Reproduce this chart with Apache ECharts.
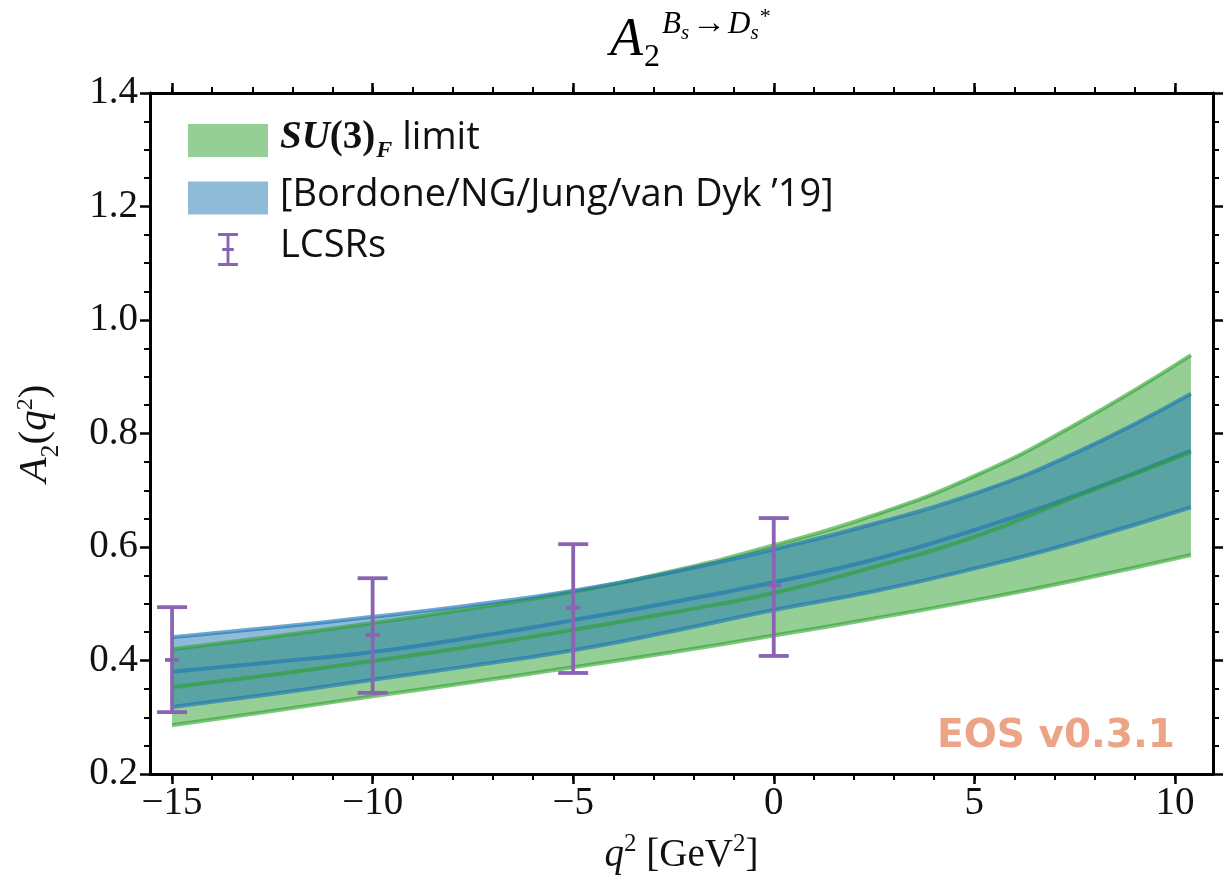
<!DOCTYPE html>
<html>
<head>
<meta charset="utf-8">
<script src="https://cdn.jsdelivr.net/npm/echarts@6/dist/echarts.min.js"></script>
<style>
html,body{margin:0;padding:0;background:#fff;}
#chart{width:1230px;height:891px;}
</style>
</head>
<body>
<div id="chart"></div>
<script>
// ---- data ----
const q2Grid = [-15, -12.5, -10, -7.5, -5, -2.5, 0, 2.5, 5, 7.5, 10.4];
const su3Upper   = [0.420, 0.442, 0.466, 0.492, 0.521, 0.558, 0.603, 0.656, 0.725, 0.815, 0.938];
const su3Central = [0.353, 0.375, 0.399, 0.425, 0.454, 0.485, 0.519, 0.565, 0.618, 0.688, 0.767];
const su3Lower   = [0.286, 0.311, 0.337, 0.362, 0.388, 0.415, 0.444, 0.474, 0.506, 0.541, 0.586];
const bgjvdUpper   = [0.441, 0.458, 0.477, 0.498, 0.523, 0.556, 0.596, 0.641, 0.694, 0.765, 0.870];
const bgjvdCentral = [0.380, 0.397, 0.415, 0.441, 0.471, 0.503, 0.538, 0.578, 0.630, 0.690, 0.770];
const bgjvdLower   = [0.318, 0.341, 0.366, 0.391, 0.418, 0.452, 0.489, 0.522, 0.562, 0.608, 0.670];
const lcsrQ2      = [-15, -10, -5, 0];
const lcsrCentral = [0.401, 0.445, 0.493, 0.533];
const lcsrLower   = [0.309, 0.343, 0.378, 0.408];
const lcsrUpper   = [0.494, 0.545, 0.605, 0.651];
const xMajorTicks = [-15, -10, -5, 0, 5, 10];
const xMinorTicks = [-15,-14,-13,-12,-11,-10,-9,-8,-7,-6,-5,-4,-3,-2,-1,0,1,2,3,4,5,6,7,8,9,10];
const yMin = 0.2, yMax = 1.4, yStep = 0.2;
const xMin = -15.55, xMax = 10.95;

// ---- styling ----
const GREEN_FILL = 'rgba(44,160,44,0.5)';
const BLUE_FILL = 'rgba(31,119,180,0.5)';
const GREEN_LINE = 'rgba(44,160,44,0.6)';
const BLUE_LINE = 'rgba(31,119,180,0.65)';
const PURPLE = '#8a64b2';
const SERIF = '"Liberation Serif", "DejaVu Serif", serif';
const SANS = '"Open Sans", "Noto Sans", sans-serif';

const pairs = (xs, ys) => xs.map((x, i) => [x, ys[i]]);
// band series keep the value (y) in dimension 0 so the stack acts on y
const bandPairs = (xs, ys) => xs.map((x, i) => [ys[i], x]);
const bandDiffs = (xs, up, lo) => xs.map((x, i) => [+(up[i] - lo[i]).toFixed(4), x]);

function bandBase(name, stack, lower) {
  return { name, type: 'line', stack, data: bandPairs(q2Grid, lower), encode: { x: 1, y: 0 },
    smooth: true, symbol: 'none', lineStyle: { width: 0, opacity: 0 }, silent: true, z: 1, animation: false };
}
function bandFill(name, stack, upper, lower, color) {
  return { name, type: 'line', stack, data: bandDiffs(q2Grid, upper, lower), encode: { x: 1, y: 0 },
    smooth: true, symbol: 'none', itemStyle: { color }, lineStyle: { width: 0, opacity: 0 },
    areaStyle: { color, opacity: 1 }, silent: true, z: 2, animation: false };
}
function edge(name, ys, color, z) {
  return { name, type: 'line', data: pairs(q2Grid, ys), smooth: true, symbol: 'none',
    lineStyle: { width: 4, color }, itemStyle: { color }, silent: true, z, animation: false };
}

const xAxisBase = { type: 'value', min: xMin, max: xMax, splitLine: { show: false } };
const axisBlack = { show: true, onZero: false, lineStyle: { color: '#000', width: 3 } };
const axisHidden = { show: false, onZero: false };

function tok(extra) {
  return Object.assign({ fontFamily: SERIF, fontWeight: 'normal', verticalAlign: 'bottom', color: '#000' }, extra);
}

const option = {
  backgroundColor: '#fff',
  animation: false,
  title: {
    text: '{A|A}{sub|2}{sup|B}{ssub|s}{arr|→}{sup|D}{ssub|s}{star|*}',
    left: 610, top: 6, padding: 0,
    textStyle: {
      fontWeight: 'normal',
      rich: {
        A:    tok({ fontStyle: 'italic', fontSize: 54, padding: [0, 0, 10, 0] }),
        sub:  tok({ fontSize: 32, padding: [0, 2, 4, 1] }),
        sup:  tok({ fontStyle: 'italic', fontSize: 31, padding: [0, 0, 38, 0] }),
        ssub: tok({ fontStyle: 'italic', fontSize: 21, padding: [0, 1, 34, 0] }),
        arr:  tok({ fontSize: 34, padding: [0, 2, 37, 2] }),
        star: tok({ fontSize: 22, padding: [0, 0, 50, 0] })
      }
    }
  },
  legend: {
    left: 188, top: 118, orient: 'vertical', padding: 0,
    itemWidth: 80, itemHeight: 33, itemGap: 13, selectedMode: false,
    data: [
      { name: 'SU3', icon: 'rect', itemStyle: { color: GREEN_FILL, borderWidth: 0 } },
      { name: 'BGJvD', icon: 'rect', itemStyle: { color: BLUE_FILL, borderWidth: 0 } },
      { name: 'LCSRs', icon: 'path://M0,0H24V3.5H13.75V18.25H19V21.75H13.75V36.5H24V40H0V36.5H10.25V21.75H5V18.25H10.25V3.5H0Z', itemStyle: { color: PURPLE, borderWidth: 0 } }
    ],
    formatter: function (name) {
      if (name === 'SU3') return '{m|SU}{n|(3)}{f|F}{t| limit}';
      if (name === 'BGJvD') return '{t|[Bordone/NG/Jung/van Dyk ’19]}';
      return '{t|LCSRs}';
    },
    textStyle: {
      padding: [0, 0, 0, 7],
      rich: {
        m: { fontFamily: SERIF, fontStyle: 'italic', fontWeight: 'bold', fontSize: 39, padding: [0, 0, 6, 0], verticalAlign: 'bottom', color: '#111' },
        n: { fontFamily: SERIF, fontWeight: 'bold', fontSize: 39, padding: [0, 0, 6, 0], verticalAlign: 'bottom', color: '#111' },
        f: { fontFamily: SERIF, fontStyle: 'italic', fontWeight: 'bold', fontSize: 24, padding: [0, 0, 0, 1], verticalAlign: 'bottom', color: '#111' },
        t: { fontFamily: SANS, fontSize: 38, padding: [0, 0, 6, 0], verticalAlign: 'bottom', color: '#111' }
      }
    }
  },
  grid: { left: 150, right: 17, top: 93, bottom: 117, containLabel: false, outerBoundsMode: 'none' },
  xAxis: [
    Object.assign({}, xAxisBase, {
      position: 'bottom', axisLine: axisBlack,
      axisTick: { show: true, customValues: xMajorTicks, length: 10, lineStyle: { color: '#000', width: 2.5 } },
      axisLabel: { show: true, customValues: xMajorTicks, margin: 10, fontFamily: SERIF, fontSize: 39, color: '#111',
        formatter: v => String(v).replace('-', '\u2212') },
      name: '{i|q}{s|2}{r| [GeV}{s|2}{r|]}', nameLocation: 'middle', nameGap: 58,
      nameTextStyle: { rich: {
        i: tok({ fontStyle: 'italic', fontSize: 39, padding: [0, 0, 6, 0], color: '#111' }),
        s: tok({ fontSize: 25, padding: [0, 0, 24, 0], color: '#111' }),
        r: tok({ fontSize: 39, padding: [0, 0, 6, 0], color: '#111' })
      } }
    }),
    Object.assign({}, xAxisBase, {
      position: 'bottom', axisLine: axisHidden,
      axisTick: { show: true, customValues: xMinorTicks, length: 6, lineStyle: { color: '#000', width: 2 } },
      axisLabel: { show: false }
    }),
    Object.assign({}, xAxisBase, {
      position: 'top', axisLine: axisBlack,
      axisTick: { show: true, customValues: xMajorTicks, length: 10, lineStyle: { color: '#000', width: 2.5 } },
      axisLabel: { show: false }
    }),
    Object.assign({}, xAxisBase, {
      position: 'top', axisLine: axisHidden,
      axisTick: { show: true, customValues: xMinorTicks, length: 6, lineStyle: { color: '#000', width: 2 } },
      axisLabel: { show: false }
    })
  ],
  yAxis: [
    {
      type: 'value', min: yMin, max: yMax, interval: yStep, position: 'left',
      axisLine: axisBlack, splitLine: { show: false },
      axisTick: { show: true, length: 10, lineStyle: { color: '#000', width: 2.5 } },
      minorTick: { show: true, splitNumber: 4, length: 6, lineStyle: { color: '#000', width: 2 } },
      axisLabel: { margin: 12, fontFamily: SERIF, fontSize: 39, color: '#111', formatter: v => v.toFixed(1) },
      name: '{A|A}{sub|2}{r|(}{i|q}{sup|2}{r|)}', nameLocation: 'middle', nameGap: 84, nameRotate: 90,
      nameTextStyle: { rich: {
        A: tok({ fontStyle: 'italic', fontSize: 41, padding: [0, 0, 10, 0], color: '#111' }),
        sub: tok({ fontSize: 26, padding: [0, 0, 2, 0], color: '#111' }),
        r: tok({ fontSize: 41, padding: [0, 0, 10, 0], color: '#111' }),
        i: tok({ fontStyle: 'italic', fontSize: 41, padding: [0, 0, 10, 0], color: '#111' }),
        sup: tok({ fontSize: 24, padding: [0, 0, 28, 0], color: '#111' })
      } }
    },
    {
      type: 'value', min: yMin, max: yMax, interval: yStep, position: 'right',
      axisLine: axisBlack, splitLine: { show: false },
      axisTick: { show: true, length: 10, lineStyle: { color: '#000', width: 2.5 } },
      minorTick: { show: true, splitNumber: 4, length: 6, lineStyle: { color: '#000', width: 2 } },
      axisLabel: { show: false }
    }
  ],
  graphic: [
    { type: 'text', left: 937, top: 717, z: 100,
      style: { text: 'EOS v0.3.1', font: 'bold 39px "DejaVu Sans", sans-serif', fill: '#eca487' } }
  ],
  series: [
    bandBase('su3Base', 'su3', su3Lower),
    bandFill('SU3', 'su3', su3Upper, su3Lower, GREEN_FILL),
    bandBase('bgBase', 'bg', bgjvdLower),
    bandFill('BGJvD', 'bg', bgjvdUpper, bgjvdLower, BLUE_FILL),
    edge('su3UpperLine', su3Upper, GREEN_LINE, 4),
    edge('su3LowerLine', su3Lower, GREEN_LINE, 4),
    edge('su3CentralLine', su3Central, GREEN_LINE, 6),
    edge('bgUpperLine', bgjvdUpper, BLUE_LINE, 5),
    edge('bgLowerLine', bgjvdLower, BLUE_LINE, 5),
    edge('bgCentralLine', bgjvdCentral, BLUE_LINE, 5),
    {
      name: 'LCSRs', type: 'custom', z: 10, animation: false,
      itemStyle: { color: PURPLE },
      data: lcsrQ2.map((x, i) => [x, lcsrCentral[i], lcsrLower[i], lcsrUpper[i]]),
      encode: { x: 0, y: [1, 2, 3] },
      renderItem: function (params, api) {
        const x = api.value(0);
        const pc = api.coord([x, api.value(1)]);
        const pl = api.coord([x, api.value(2)]);
        const ph = api.coord([x, api.value(3)]);
        const cap = 15, mk = 7;
        const st = { stroke: PURPLE, lineWidth: 3.8, fill: null };
        return { type: 'group', children: [
          { type: 'line', shape: { x1: pl[0], y1: pl[1], x2: ph[0], y2: ph[1] }, style: st },
          { type: 'line', shape: { x1: pl[0] - cap, y1: pl[1], x2: pl[0] + cap, y2: pl[1] }, style: st },
          { type: 'line', shape: { x1: ph[0] - cap, y1: ph[1], x2: ph[0] + cap, y2: ph[1] }, style: st },
          { type: 'line', shape: { x1: pc[0] - mk, y1: pc[1], x2: pc[0] + mk, y2: pc[1] }, style: st }
        ] };
      }
    }
  ]
};

const chart = echarts.init(document.getElementById('chart'), null, { renderer: 'canvas' });
chart.setOption(option);
</script>
</body>
</html>
